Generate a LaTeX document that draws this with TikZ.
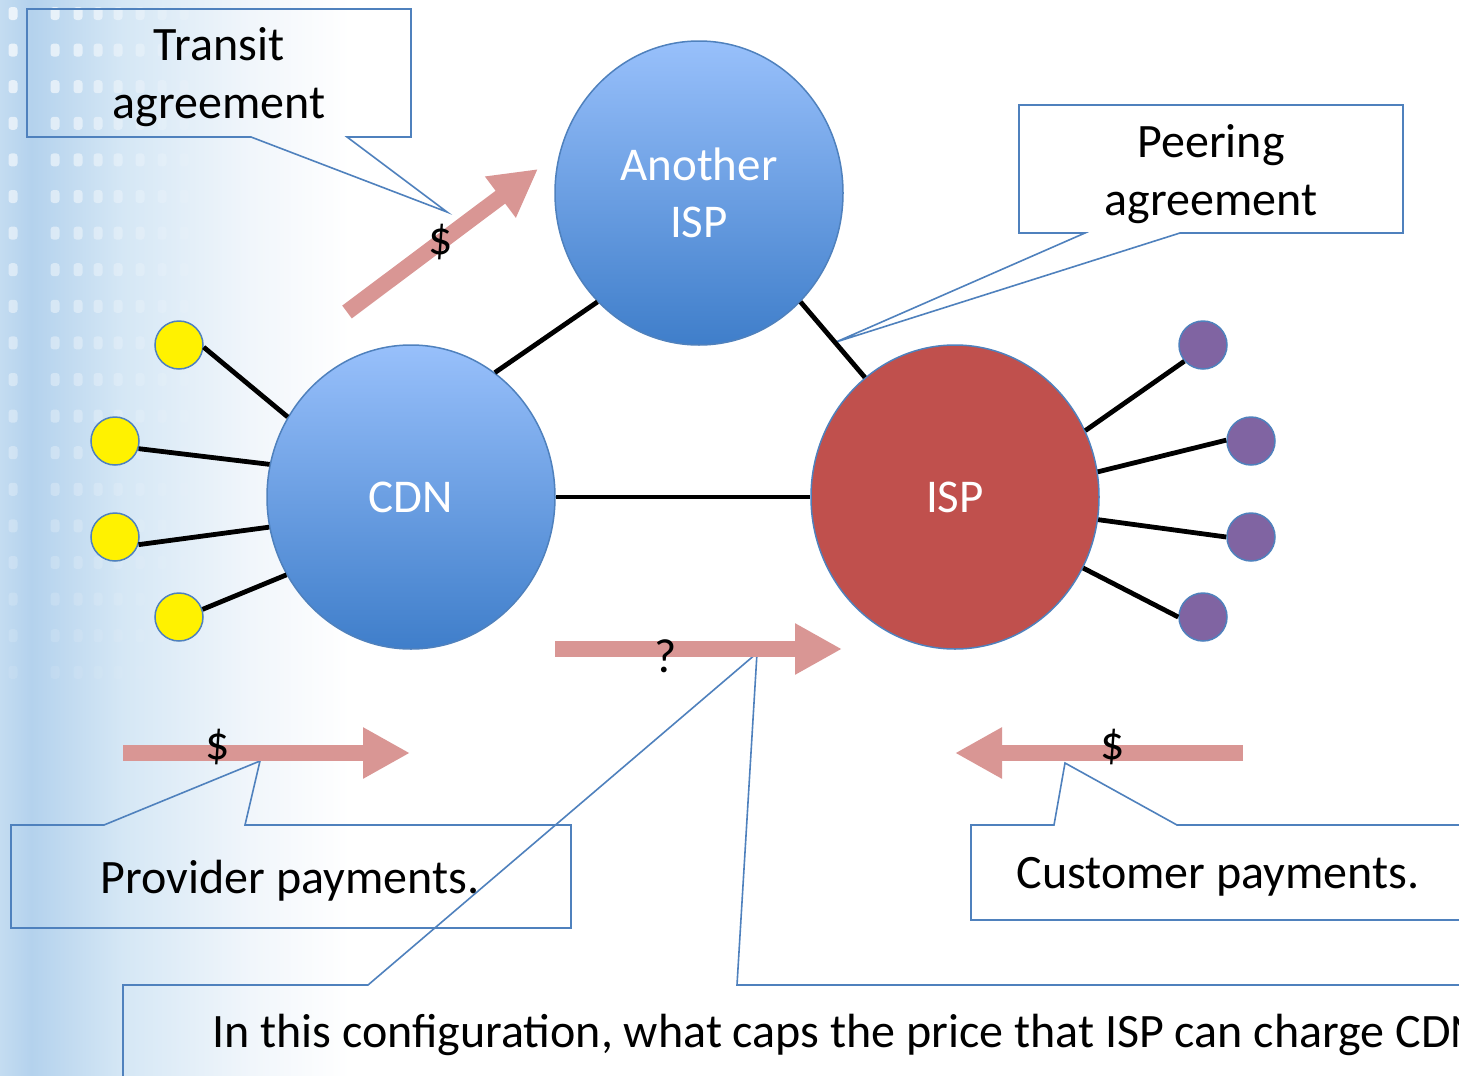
\documentclass[tikz,border=0pt]{standalone}
\usepackage{fontspec}
\setmainfont{Carlito}
\usetikzlibrary{shapes.geometric,arrows.meta}
\definecolor{edgeblue}{HTML}{4F81BD}
\definecolor{topblue}{HTML}{98C0FB}
\definecolor{botblue}{HTML}{3F7ECA}
\definecolor{ispred}{HTML}{C0504D}
\definecolor{payred}{HTML}{D99694}
\definecolor{leafpurple}{HTML}{8064A2}
\definecolor{bgA}{HTML}{C4DCF1}
\definecolor{bgB}{HTML}{B4D2ED}
\definecolor{bgC}{HTML}{D5E7F5}
\definecolor{bgD}{HTML}{F1F6FB}
\pgfdeclarehorizontalshading{sidebg}{100bp}{color(0bp)=(bgA); color(25bp)=(bgA); color(29.5bp)=(bgB); color(42.5bp)=(bgC); color(61bp)=(bgD); color(75bp)=(white); color(100bp)=(white)}
\newcommand\twoline[2]{\begin{tabular}[t]{@{}c@{}}#1\\#2\end{tabular}}
\begin{document}
\begin{tikzpicture}[x=1pt,y=-1pt,
  lbl/.style={font=\fontsize{48}{58}\selectfont, inner sep=0pt, text=black},
  bigblue/.style={ellipse, minimum width=288pt, minimum height=304pt, inner sep=0pt,
     top color=topblue, bottom color=botblue, draw=edgeblue, line width=1.5pt,
     text=white, font=\fontsize{47}{57}\selectfont},
  bigred/.style={ellipse, minimum width=288pt, minimum height=304pt, inner sep=0pt,
     fill=ispred, draw=edgeblue, line width=1.5pt,
     text=white, font=\fontsize{47}{57}\selectfont},
  yleaf/.style={circle, minimum size=48pt, inner sep=0pt, fill=yellow, draw=edgeblue, line width=1.5pt},
  pleaf/.style={circle, minimum size=48pt, inner sep=0pt, fill=leafpurple, draw=edgeblue, line width=1.5pt},
  conn/.style={draw=black, line width=4.8pt},
  callout/.style={draw=edgeblue, line width=1.6pt, line join=miter},
  payarrow/.style={draw=payred, line width=16pt, -{Triangle[length=47pt,width=48pt]}}
]
\useasboundingbox (0,0) rectangle (1459,1076);
\clip (0,0) rectangle (1459,1076);

% background
\fill[white] (0,0) rectangle (1459,1076);
\shade[shading=sidebg] (0,0) rectangle (350,1076);
\foreach \i in {0,...,18} {
  \foreach \cx/\op in {13/0.7, 55/0.65, 78/0.6, 98/0.5, 118/0.4, 140/0.3, 162/0.2, 184/0.12} {
    \pgfmathsetmacro\oo{\op*(1-\i/21)}
    \fill[white, opacity=\oo, rounded corners=3pt] (\cx-4.5, 7+36.6*\i) rectangle ++(9,13);
  }
}

% callouts
\draw[callout] (27,9) -- (411,9) -- (411,137) -- (347,137) -- (447,212) -- (251,137) -- (27,137) -- cycle;
\draw[callout] (1019,105) -- (1403,105) -- (1403,233) -- (1180,233) -- (836,342) -- (1085,233) -- (1019,233) -- cycle;
\draw[callout] (11,825) -- (104,825) -- (260,761) -- (245,825) -- (571,825) -- (571,928) -- (11,928) -- cycle;
\draw[callout] (1470,825) -- (1177,825) -- (1065,763) -- (1054,825) -- (971,825) -- (971,920) -- (1470,920);
\draw[callout] (123,1090) -- (123,985) -- (368,985) -- (757,653) -- (737,985) -- (1470,985);

% main nodes
\node[bigblue] (aisp) at (699,193) {\raisebox{13pt}[0pt][0pt]{\twoline{Another}{ISP}}};
\node[bigblue] (cdn) at (411,497) {CDN};
\node[bigred] (isp) at (955,497) {ISP};

\node[yleaf] (y1) at (179,345) {};
\node[yleaf] (y2) at (115,441) {};
\node[yleaf] (y3) at (115,537) {};
\node[yleaf] (y4) at (179,617) {};
\node[pleaf] (p1) at (1203,345) {};
\node[pleaf] (p2) at (1251,441) {};
\node[pleaf] (p3) at (1251,537) {};
\node[pleaf] (p4) at (1203,617) {};

% connectors
\draw[conn] (cdn.147) -- (y1.-5);
\draw[conn] (cdn.167) -- (y2.-18);
\draw[conn] (cdn.192) -- (y3.-18);
\draw[conn] (cdn.212) -- (y4.18);
\draw[conn] (cdn.56) -- (aisp.227);
\draw[conn] (cdn.0) -- (isp.180);
\draw[conn] (aisp.313) -- (isp.127);
\draw[conn] (isp.27) -- (p1.221);
\draw[conn] (isp.10) -- (p2.178);
\draw[conn] (isp.-9) -- (p3.180);
\draw[conn] (isp.-29) -- (p4.180);

% payment arrows
\coordinate (ta1) at (347,312);
\coordinate (ta2) at (538,169);
\coordinate (qa1) at (555,649);
\coordinate (qa2) at (842,649);
\coordinate (pa1) at (123,753);
\coordinate (pa2) at (410,753);
\coordinate (ca1) at (1243,753);
\coordinate (ca2) at (955,753);
\draw[payarrow] (ta1) -- (ta2);
\draw[payarrow] (qa1) -- (qa2);
\draw[payarrow] (pa1) -- (pa2);
\draw[payarrow] (ca1) -- (ca2);

\node[lbl, anchor=base] (tdollar) at (441,254) {\$};
\node[lbl, anchor=base] (qmark) at (666,672) {?};
\node[lbl, anchor=base] (pdollar) at (218,759) {\$};
\node[lbl, anchor=base] (cdollar) at (1113,759) {\$};

% callout texts
\node[lbl, anchor=base] (transit) at (219,60) {\twoline{Transit}{agreement}};
\node[lbl, anchor=base] (peering) at (1211,157) {\twoline{Peering}{agreement}};
\node[lbl, anchor=base] (provider) at (290,893) {Provider payments.};
\node[lbl, anchor=base] (customer) at (1218,888) {Customer payments.};
\node[lbl, anchor=base west] (question) at (212,1047) {In this configuration, what caps the price that ISP can charge CDN?};
\end{tikzpicture}
\end{document}
